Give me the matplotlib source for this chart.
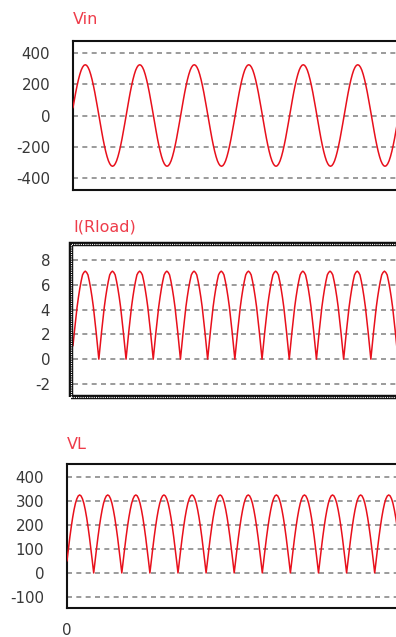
import numpy as np
import matplotlib.pyplot as plt
from matplotlib.patches import Rectangle

plt.rcParams['font.family'] = ['DejaVu Sans']

# sampled traces, 0.5 ms per sample
step_ms = 0.5
n_cycles = 7

# one 20 ms cycle of the source voltage (V)
vin_cycle = [51, 100, 148, 191, 230, 263, 290, 309, 321, 325,
             321, 309, 290, 263, 230, 191, 148, 100, 51, 0,
             -51, -100, -148, -191, -230, -263, -290, -309, -321, -325,
             -321, -309, -290, -263, -230, -191, -148, -100, -51, 0]
# one 10 ms half cycle of load current (A) and load voltage (V)
il_half = [1.1, 2.2, 3.2, 4.2, 5.0, 5.7, 6.3, 6.8, 7.0, 7.1,
           7.0, 6.8, 6.3, 5.7, 5.0, 4.2, 3.2, 2.2, 1.1, 0.0]
vl_half = [51, 100, 148, 191, 230, 263, 290, 309, 321, 325,
           321, 309, 290, 263, 230, 191, 148, 100, 51, 0]

titles = ['Vin', 'I(Rload)', 'VL']
yticks = [[400, 200, 0, -200, -400],
          [8, 6, 4, 2, 0, -2],
          [400, 300, 200, 100, 0, -100]]
ylims = [(-477, 477), (-2.89, 9.13), (-146, 454)]

vin = np.tile(vin_cycle, n_cycles)
il = np.tile(il_half, 2 * n_cycles)
vl = np.tile(vl_half, 2 * n_cycles)
t = np.arange(len(vin)) * step_ms
traces = [vin, il, vl]

W, H = 396, 637
fig = plt.figure(figsize=(W / 100, H / 100), dpi=100)

# panel boxes in pixels: left, top, bottom, px per ms, title centre
boxes = [(73, 41, 190, 2.725, 18), (73, 246, 395, 2.72, 225), (67, 464, 608, 2.81, 443)]
xmax = 140

red = '#e8101c'
txt = '#383838'
for i, (left, top, bot, pxms, ty) in enumerate(boxes):
    ax = fig.add_axes([left / W, 1 - bot / H, xmax * pxms / W, (bot - top) / H])
    ax.plot(t, traces[i], color=red, lw=1.1, zorder=3)
    ax.set_xlim(0, xmax)
    ax.set_ylim(*ylims[i])
    ax.set_yticks(yticks[i])
    ax.set_yticklabels([str(v) for v in yticks[i]])
    ax.tick_params(axis='y', length=0, pad=16.5, labelsize=10.8, labelcolor=txt)
    ax.yaxis.grid(True, color='#8a8a8a', lw=1.2, linestyle=(0, (3, 2.6)))
    ax.set_axisbelow(True)
    if i == 2:
        ax.set_xticks([0])
        ax.set_xticklabels(['0'])
        ax.tick_params(axis='x', length=0, pad=10.5, labelsize=10.8, labelcolor=txt)
    else:
        ax.set_xticks([])
    ax.set_title(titles[i], loc='left', color='#ee3c4a', fontsize=11.5,
                 pad=(top - ty - 6) * 0.72)
    if i == 1:
        # selected panel gets a heavy hatched frame
        for s in ax.spines.values():
            s.set_visible(False)
        fx0, fy0 = 70.5 / W, 1 - 397 / H
        fw, fh = (xmax * pxms + 10) / W, (397 - 244) / H
        fig.patches.append(Rectangle((fx0, fy0), fw, fh, transform=fig.transFigure,
                                     fill=False, ec='#111111', lw=3.2))
        fig.patches.append(Rectangle((fx0, fy0), fw, fh, transform=fig.transFigure,
                                     fill=False, ec='white', lw=0.8, ls=(0, (1, 1))))
    else:
        for s in ax.spines.values():
            s.set_linewidth(1.5)
            s.set_color('#111111')

fig.savefig('out.png', dpi=100)
